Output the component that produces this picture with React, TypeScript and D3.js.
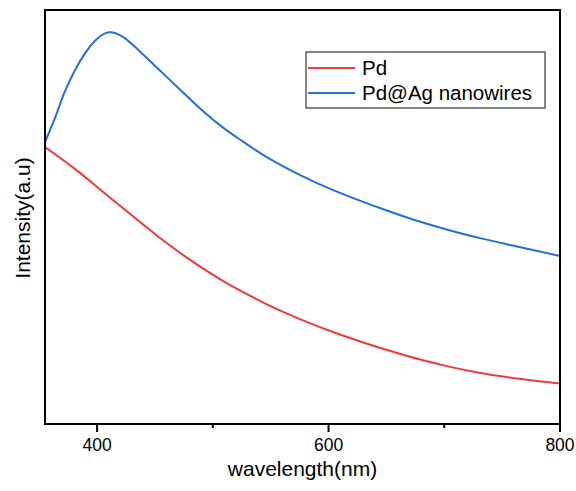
import * as d3 from 'd3';

// wavelength (nm) and intensity (a.u.)
const pdWavelength = [355, 380, 405, 430, 455, 480, 505, 530, 555, 580, 605, 630, 655, 680, 705, 730, 755, 780, 800];
const pdIntensity = [0.669, 0.618, 0.561, 0.504, 0.448, 0.397, 0.352, 0.313, 0.278, 0.248, 0.221, 0.197, 0.175, 0.155, 0.138, 0.124, 0.113, 0.104, 0.098];

const agWavelength = [355, 364, 372, 381, 390, 398, 404, 410, 416, 423, 437, 452, 472, 489, 506, 524, 547, 575, 604, 645, 673, 702, 731, 759, 800];
const agIntensity = [0.681, 0.742, 0.802, 0.855, 0.897, 0.925, 0.939, 0.946, 0.944, 0.934, 0.9, 0.86, 0.807, 0.762, 0.722, 0.686, 0.644, 0.602, 0.565, 0.521, 0.494, 0.47, 0.449, 0.431, 0.406];

const seriesNames = ['Pd', 'Pd@Ag nanowires'];
const seriesColors = ['#ee3a3a', '#2370dc'];
const majorTicks = [400, 600, 800];
const minorTicks = [500, 700];

export default function App() {
  const width = 576;
  const height = 491;
  const left = 45, right = 560, top = 10, bottom = 424;

  const x = d3.scaleLinear().domain([355, 800]).range([left, right]);
  const y = d3.scaleLinear().domain([0, 1]).range([bottom, top]);

  const line = d3.line<[number, number]>()
    .x(d => x(d[0]))
    .y(d => y(d[1]))
    .curve(d3.curveCatmullRom.alpha(0.5));

  const series = [
    d3.zip(pdWavelength, pdIntensity) as [number, number][],
    d3.zip(agWavelength, agIntensity) as [number, number][],
  ];

  const font = 'Liberation Sans, Arial, sans-serif';
  const legendX = 306, legendY = 52;

  return (
    <svg width={width} height={height} style={{ position: 'absolute', left: 0, top: 0, background: '#fff' }}>
      <defs>
        <clipPath id="plot">
          <rect x={left} y={top} width={right - left} height={bottom - top} />
        </clipPath>
      </defs>

      <g clipPath="url(#plot)">
        {series.map((s, i) => (
          <path key={i} d={line(s) ?? ''} fill="none" stroke={seriesColors[i]} strokeWidth={2} />
        ))}
      </g>

      <rect x={left} y={top} width={right - left} height={bottom - top} fill="none" stroke="#000" strokeWidth={2} />

      {majorTicks.map(t => (
        <g key={t}>
          <line x1={x(t)} x2={x(t)} y1={bottom} y2={bottom + 8} stroke="#000" strokeWidth={2} />
          <text x={x(t)} y={bottom + 27} textAnchor="middle" fontFamily={font} fontSize={17.5} fill="#000">{t}</text>
        </g>
      ))}
      {minorTicks.map(t => (
        <line key={t} x1={x(t)} x2={x(t)} y1={bottom} y2={bottom + 4} stroke="#000" strokeWidth={2} />
      ))}

      <text x={(left + right) / 2} y={476} textAnchor="middle" fontFamily={font} fontSize={21} fill="#000">wavelength(nm)</text>
      <text transform={`translate(30,${(top + bottom) / 2 + 1}) rotate(-90)`} textAnchor="middle" fontFamily={font} fontSize={21} fill="#000">Intensity(a.u)</text>

      <g>
        <rect x={legendX} y={legendY} width={239} height={56} fill="#fff" stroke="#444" strokeWidth={1.3} />
        {seriesNames.map((name, i) => (
          <g key={name} transform={`translate(${legendX},${legendY + 16 + i * 25})`}>
            <line x1={2} x2={49} y1={0} y2={0} stroke={seriesColors[i]} strokeWidth={2} />
            <text x={56} y={0} dy="0.36em" fontFamily={font} fontSize={20.5} fill="#000">{name}</text>
          </g>
        ))}
      </g>
    </svg>
  );
}
